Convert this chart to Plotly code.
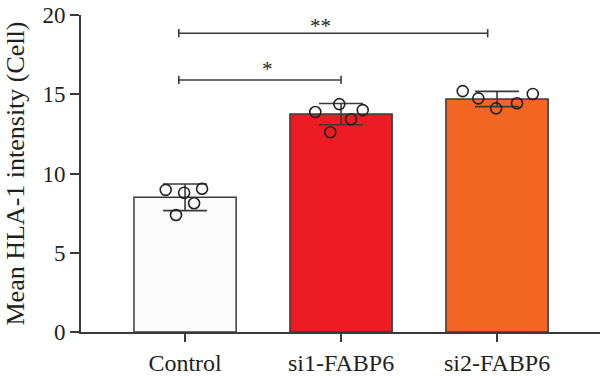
import plotly.graph_objects as go

categories = ["Control", "si1-FABP6", "si2-FABP6"]
means = [8.5, 13.75, 14.7]
sds = [0.84, 0.67, 0.48]
points = [
    [8.97, 8.79, 9.04, 8.12, 7.38],
    [13.88, 14.38, 14.0, 13.42, 12.6],
    [15.2, 14.74, 14.11, 14.43, 15.02],
]
jitter = [
    [-0.124, -0.006, 0.109, 0.058, -0.058],
    [-0.165, -0.011, 0.139, 0.064, -0.069],
    [-0.22, -0.12, -0.006, 0.128, 0.229],
]
bar_colors = ["#fbfbfb", "#ed1c24", "#f26522"]
y_ticks = [0, 5, 10, 15, 20]
# significance brackets: (x start, x end, y, label, label x, label y)
brackets = [
    (-0.04, 1.0, 15.9, "*", 0.53, 15.68),
    (-0.04, 1.94, 18.85, "**", 0.87, 18.42),
]

ink = "#3a3a3a"
font_family = "Liberation Serif"

fig = go.Figure()
fig.add_trace(go.Bar(
    x=[0, 1, 2], y=means, width=0.655,
    marker=dict(color=bar_colors, line=dict(color=ink, width=1.5)),
    error_y=dict(type="data", array=sds, visible=True, color=ink,
                 thickness=1.6, width=22),
    showlegend=False,
))
for i, pts in enumerate(points):
    fig.add_trace(go.Scatter(
        x=[i + j for j in jitter[i]], y=pts, mode="markers",
        marker=dict(symbol="circle-open", size=11, color="#222222",
                    line=dict(width=1.6, color="#222222")),
        showlegend=False,
    ))

shapes = []
annotations = []
for x0, x1, yv, lab, lx, ly in brackets:
    shapes.append(dict(type="line", xref="x", yref="y", x0=x0, x1=x1, y0=yv, y1=yv,
                       line=dict(color=ink, width=1.6)))
    for xe in (x0, x1):
        shapes.append(dict(type="line", xref="x", yref="y", x0=xe, x1=xe,
                           y0=yv - 0.26, y1=yv + 0.26, line=dict(color=ink, width=1.6)))
    annotations.append(dict(x=lx, y=ly, xref="x", yref="y", text=lab,
                            showarrow=False, yanchor="bottom",
                            font=dict(family=font_family, size=21, color="#222222")))

fig.update_layout(
    width=600, height=378,
    margin=dict(l=81, r=0, t=15, b=46, autoexpand=False),
    plot_bgcolor="white", paper_bgcolor="white",
    shapes=shapes, annotations=annotations,
    font=dict(family=font_family, size=22, color="#231f20"),
)
fig.update_xaxes(
    range=[-0.667, 2.66], tickmode="array", tickvals=[0, 1, 2], ticktext=categories,
    showline=True, linecolor=ink, linewidth=1.6, ticks="outside", ticklen=8,
    tickcolor=ink, tickwidth=1.6, showgrid=False, zeroline=False, automargin=False,
    tickfont=dict(family=font_family, size=24),
)
fig.update_yaxes(
    range=[0, 20], tickvals=y_ticks, showline=True, linecolor=ink, linewidth=1.6,
    ticks="outside", ticklen=9, tickcolor=ink, tickwidth=1.6, showgrid=False,
    zeroline=False, automargin=False, tickfont=dict(family=font_family, size=23),
    ticklabeloverflow="allow",
    title=dict(text="Mean HLA-1 intensity (Cell)", standoff=10,
               font=dict(family=font_family, size=26)),
)
# remove the browser's default 8px page margin so the figure fills the window
fig.write_html("out.html", config={"displayModeBar": False},
               post_script="document.body.style.margin='0px';")
